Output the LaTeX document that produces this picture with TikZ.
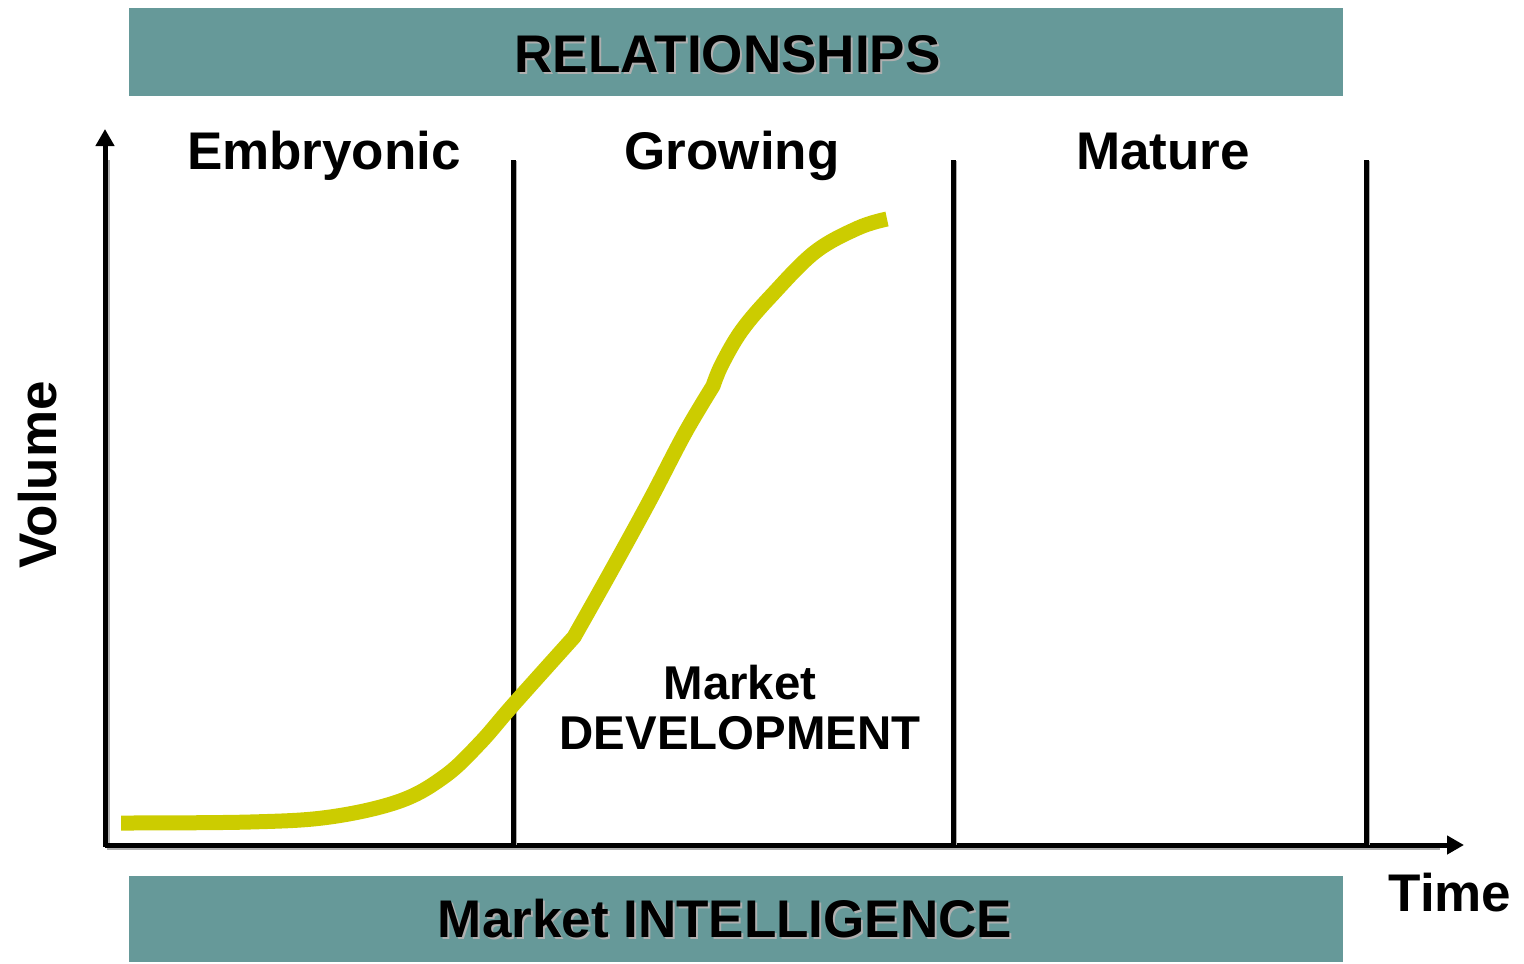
\documentclass[tikz,border=0pt]{standalone}
\usepackage{fontspec}
\setmainfont{Liberation Sans}
\usetikzlibrary{arrows.meta}
\definecolor{teal}{RGB}{102,153,153}
\definecolor{curvecol}{RGB}{204,204,0}
\definecolor{shadowgray}{RGB}{175,175,175}
\begin{document}
\begin{tikzpicture}[x=0.5pt,y=-0.5pt,
  banner/.style={fill=teal,draw=none},
  axisline/.style={line width=2.5pt,black},
  axisshadow/.style={line width=2.5pt,shadowgray},
  sepline/.style={line width=2.5pt,black},
  big/.style={font=\fontsize{26.5}{30}\selectfont\bfseries,inner sep=0pt,anchor=base},
  mid/.style={font=\fontsize{23.7}{27}\selectfont\bfseries,inner sep=0pt,anchor=base},
  shadowtext/.style={big,text=shadowgray},
  curve/.style={line width=7.5pt,curvecol,line cap=butt,line join=round},
  tip/.style={-{Triangle[width=9pt,length=8.5pt]}}
]
\useasboundingbox (0,0) rectangle (1524,963);
% banners
\fill[banner] (129,8) rectangle (1343,96);
\fill[banner] (129,876) rectangle (1343,962);
\node[shadowtext] (relS) at (729.5,75) {RELATIONSHIPS};
\node[big] (rel) at (727.5,73) {RELATIONSHIPS};
\node[shadowtext] (intS) at (727,939) {Market INTELLIGENCE};
\node[big] (int) at (725,937) {Market INTELLIGENCE};
% axes
\coordinate (o) at (105,845);
\coordinate (ytop) at (105,129);
\coordinate (xend) at (1464,845);
\draw[axisshadow] (107,847) -- (107,160);
\draw[axisshadow] (107,847) -- (1440,847);
\draw[axisline,tip] (105,847.2) -- (ytop);
\draw[axisline,tip] (o) -- (xend);
% separators
\foreach \x/\n in {513/a,953/b,1366/c}{
  \draw[line width=2.5pt,shadowgray] (\x+1.5,161) -- (\x+1.5,845);
  \coordinate (\n top) at (\x,160);
  \coordinate (\n bot) at (\x,845);
  \draw[sepline] (\n top) -- (\n bot);
}
% stage labels
\node[big] (emb) at (324,169) {Embryonic};
\node[big] (gro) at (732,169) {Growing};
\node[big] (mat) at (1163,169) {Mature};
% axis labels
\node[big,rotate=90] (vol) at (56,475) {Volume};
\node[big] (time) at (1450,911) {Time};
% market development
\node[mid] (md1) at (740,699) {Market};
\node[mid] (md2) at (740,749) {DEVELOPMENT};
% curve
\draw[curve] plot[smooth,tension=0.6] coordinates {(121,823) (250,822) (330,817) (400,801) (445,776) (480,743) (513,705) (574,637)}
  -- plot[smooth,tension=0.6] coordinates {(574,637) (610,573) (650,500) (685,433) (713,386)}
  -- plot[smooth,tension=0.6] coordinates {(713,386) (722,364) (742,330) (772,295) (815,252) (858,228) (887,219)};
\end{tikzpicture}
\end{document}
